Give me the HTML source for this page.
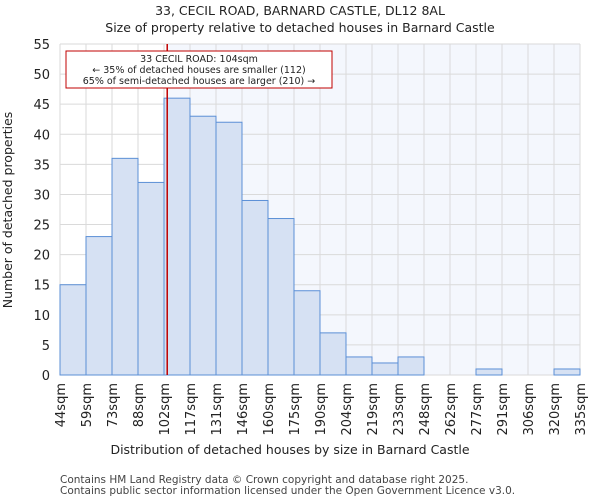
<!DOCTYPE html>
<html><head><meta charset="utf-8"><style>
body{margin:0;background:#fff;font-family:"DejaVu Sans","Liberation Sans",sans-serif}
</style></head><body>
<svg width="600" height="500" xmlns="http://www.w3.org/2000/svg" font-family="DejaVu Sans, Liberation Sans, sans-serif">
<g id="root"></g>
</svg>
<script>
const categories=["44sqm","59sqm","73sqm","88sqm","102sqm","117sqm","131sqm","146sqm","160sqm","175sqm","190sqm","204sqm","219sqm","233sqm","248sqm","262sqm","277sqm","291sqm","306sqm","320sqm","335sqm"];
const values=[15,23,36,32,46,43,42,29,26,14,7,3,2,3,0,0,1,0,0,1];
const yTicks=[0,5,10,15,20,25,30,35,40,45,50,55];
const binEdges=[44,58.55,73.1,87.65,102.2,116.75,131.3,145.85,160.4,174.95,189.5,204.05,218.6,233.15,247.7,262.25,276.8,291.35,305.9,320.45,335];
const marker=104;
const L=60,R=580,T=44,B=375;
const x=v=>L+(v-44)/(335-44)*(R-L);
const y=v=>B-v/55*(B-T);
const NS="http://www.w3.org/2000/svg";
const root=document.getElementById('root');
function mk(t,a,txt){const e=document.createElementNS(NS,t);for(const k in a)e.setAttribute(k,a[k]);if(txt!=null)e.textContent=txt;root.appendChild(e);return e;}
let e;
e=mk('rect',{x:x(marker),y:T,width:R-x(marker),height:B-T,fill:'#f4f7fd'});


for(let i=0;i<categories.length;i++){e=mk('line',{x1:x(binEdges[i]),x2:x(binEdges[i]),y1:T,y2:B,stroke:'#dadada','stroke-width':1});

}
yTicks.forEach(t=>{e=mk('line',{x1:L,x2:R,y1:y(t),y2:y(t),stroke:'#dadada','stroke-width':1});


e=mk('text',{x:L-10,y:y(t)+5,'text-anchor':'end','font-size':13,fill:'#222'},t);

});
values.forEach((v,i)=>{if(v<=0)return;e=mk('rect',{x:x(binEdges[i]),y:y(v),width:x(binEdges[i+1])-x(binEdges[i]),height:B-y(v),fill:'#d6e1f3',stroke:'#5b8fd6','stroke-width':1});

});
categories.forEach((c,i)=>{const px=x(binEdges[i]);e=mk('text',{x:px+5,y:B+8,'text-anchor':'end','font-size':13,fill:'#222',transform:`rotate(-90 ${px+5} ${B+8})`},c);

});
e=mk('line',{x1:x(marker),x2:x(marker),y1:T,y2:B,stroke:'#c00000','stroke-width':1.5});


e=mk('rect',{x:66,y:51,width:266,height:37,fill:'#fff',stroke:'#c00000','stroke-width':1});


[["33 CECIL ROAD: 104sqm",62],["← 35% of detached houses are smaller (112)",73],["65% of semi-detached houses are larger (210) →",84]].forEach(a=>{e=mk('text',{x:199,y:a[1],'text-anchor':'middle','font-size':9.5,fill:'#222'},a[0]);

});
e=mk('text',{x:300,y:15,'text-anchor':'middle','font-size':12.5,fill:'#222'},"33, CECIL ROAD, BARNARD CASTLE, DL12 8AL");


e=mk('text',{x:300,y:32,'text-anchor':'middle','font-size':12.5,fill:'#222'},"Size of property relative to detached houses in Barnard Castle");


e=mk('text',{x:290,y:454,'text-anchor':'middle','font-size':12.5,fill:'#222'},"Distribution of detached houses by size in Barnard Castle");


e=mk('text',{x:12,y:210,'text-anchor':'middle','font-size':12.5,fill:'#222',transform:'rotate(-90 12 210)'},"Number of detached properties");


e=mk('text',{x:60,y:483,'font-size':10.5,fill:'#444'},"Contains HM Land Registry data © Crown copyright and database right 2025.");


e=mk('text',{x:60,y:494,'font-size':10.5,fill:'#444'},"Contains public sector information licensed under the Open Government Licence v3.0.");


</script>
</body></html>
